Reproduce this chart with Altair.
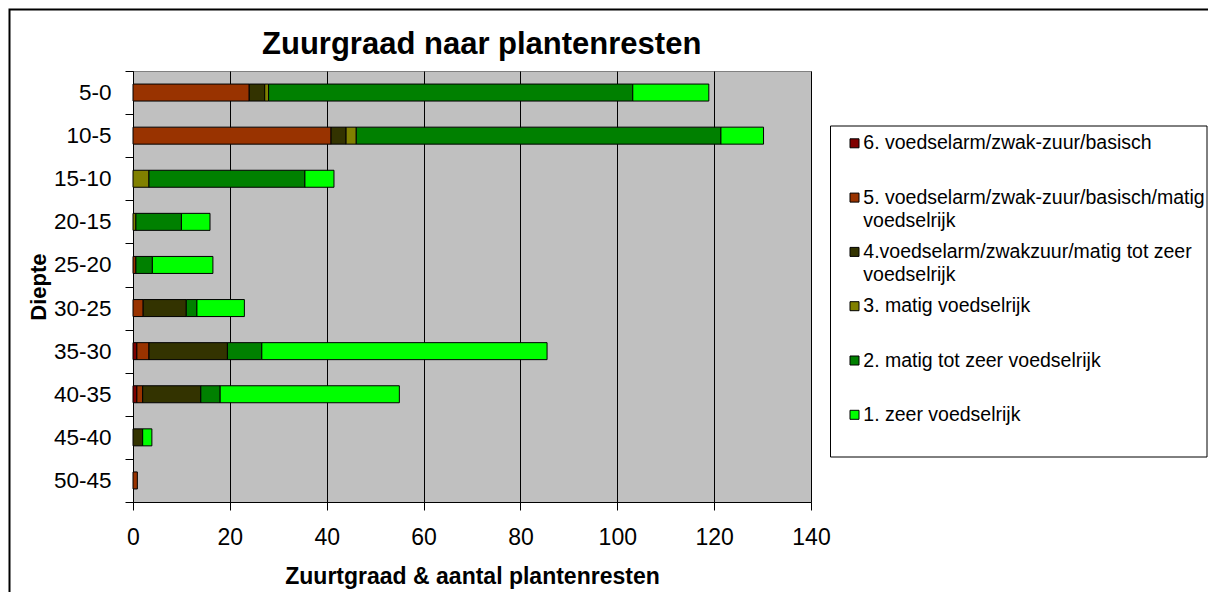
import altair as alt
import pandas as pd

depths = ["5-0", "10-5", "15-10", "20-15", "25-20", "30-25", "35-30", "40-35", "45-40", "50-45"]

series = [
    "6. voedselarm/zwak-zuur/basisch",
    "5. voedselarm/zwak-zuur/basisch/matig voedselrijk",
    "4.voedselarm/zwakzuur/matig tot zeer voedselrijk",
    "3. matig voedselrijk",
    "2. matig tot zeer voedselrijk",
    "1. zeer voedselrijk",
]
legend_text = [
    "6. voedselarm/zwak-zuur/basisch",
    "5. voedselarm/zwak-zuur/basisch/matig|voedselrijk",
    "4.voedselarm/zwakzuur/matig tot zeer|voedselrijk",
    "3. matig voedselrijk",
    "2. matig tot zeer voedselrijk",
    "1. zeer voedselrijk",
]
colors = ["#800000", "#993300", "#333300", "#808000", "#008000", "#00FF00"]

s6 = [0, 0, 0, 0, 0, 0, 0.8, 0.8, 0, 0]
s5 = [24.0, 40.9, 0, 0, 0.6, 2.1, 2.5, 1.2, 0, 0.9]
s4 = [3.2, 3.1, 0, 0, 0, 8.9, 16.2, 12.0, 2.0, 0]
s3 = [0.8, 2.1, 3.3, 0.6, 0, 0, 0, 0, 0, 0]
s2 = [75.2, 75.3, 32.2, 9.4, 3.4, 2.2, 7.1, 4.0, 0, 0]
s1 = [15.7, 8.8, 6.0, 5.9, 12.5, 9.8, 58.9, 37.0, 1.9, 0]
all_series = [s6, s5, s4, s3, s2, s1]

chart_title = "Zuurgraad naar plantenresten"

rows = []
for k, (name, vals) in enumerate(zip(series, all_series)):
    for d, v in zip(depths, vals):
        if v > 0:
            rows.append({"depth": d, "series": name, "value": v, "ord": k})
df = pd.DataFrame(rows)

leg_df = pd.DataFrame({"series": series, "text": legend_text, "li": list(range(6))})

FONT = "Liberation Sans"
color_scale = alt.Scale(domain=series, range=colors)

bars = alt.Chart(df).mark_bar(size=17, stroke="black", strokeWidth=1).encode(
    x=alt.X(
        "value:Q",
        stack="zero",
        scale=alt.Scale(domain=[0, 140], nice=False),
        axis=alt.Axis(
            values=list(range(0, 141, 20)),
            title="Zuurtgraad & aantal plantenresten",
            grid=True, gridColor="black", gridWidth=1,
            domainColor="black", tickColor="black", tickSize=8,
            labelFontSize=23, labelPadding=16, labelFlush=False,
            titleFontSize=23, titlePadding=16,
        ),
    ),
    y=alt.Y(
        "depth:N",
        sort=depths,
        scale=alt.Scale(paddingInner=0, paddingOuter=0),
        axis=alt.Axis(
            title="Diepte", tickBand="extent", grid=False,
            domainColor="black", tickColor="black", tickSize=8,
            labelFontSize=22.5, labelPadding=14,
            titleFontSize=22, titlePadding=3,
        ),
    ),
    color=alt.Color("series:N", scale=color_scale, legend=None),
    order=alt.Order("ord:Q"),
)

leg_y = alt.Y("li:Q", scale=alt.Scale(domain=[0, 5], range=[72.3, 343.8], nice=False, zero=False), axis=None)

squares = alt.Chart(leg_df).mark_square(size=81, stroke="black", strokeWidth=1, opacity=1).encode(
    x=alt.value(721.5),
    y=leg_y,
    color=alt.Color("series:N", scale=color_scale, legend=None),
)

texts = alt.Chart(leg_df).mark_text(
    align="left", baseline="top", dy=-9, fontSize=19.5, font=FONT,
    lineBreak="|", lineHeight=23.4, color="black",
).encode(
    x=alt.value(730.3),
    y=leg_y,
    text="text:N",
)

one = alt.Data(values=[{"a": 1}])
box = alt.Chart(one).mark_rect(fill="white", stroke="black", strokeWidth=1).encode(
    x=alt.value(697.5), x2=alt.value(1074), y=alt.value(55), y2=alt.value(386)
)
border = alt.Chart(one).mark_rect(fill="transparent", stroke="black", strokeWidth=2).encode(
    x=alt.value(-123.5), x2=alt.value(1150), y=alt.value(-61.5), y2=alt.value(700)
)
title_mark = alt.Chart(one).mark_text(
    align="center", baseline="alphabetic", fontSize=31, font=FONT, fontWeight="bold", color="black"
).encode(x=alt.value(348.7), y=alt.value(-17.5), text=alt.value(chart_title))

chart = alt.layer(border, box, bars, squares, texts, title_mark).resolve_scale(y="independent").properties(
    width=678,
    height=431,
    background="white",
    autosize=alt.AutoSizeParams(type="none"),
    padding={"left": 125, "top": 63, "right": 397, "bottom": 90},
).configure_view(
    fill="#C0C0C0", stroke="#808080", strokeWidth=1
).configure_axis(
    labelFont=FONT, titleFont=FONT, labelColor="black", titleColor="black", titleFontWeight="bold"
)

chart.save("out.html", embed_options={"renderer": "svg", "actions": False})
